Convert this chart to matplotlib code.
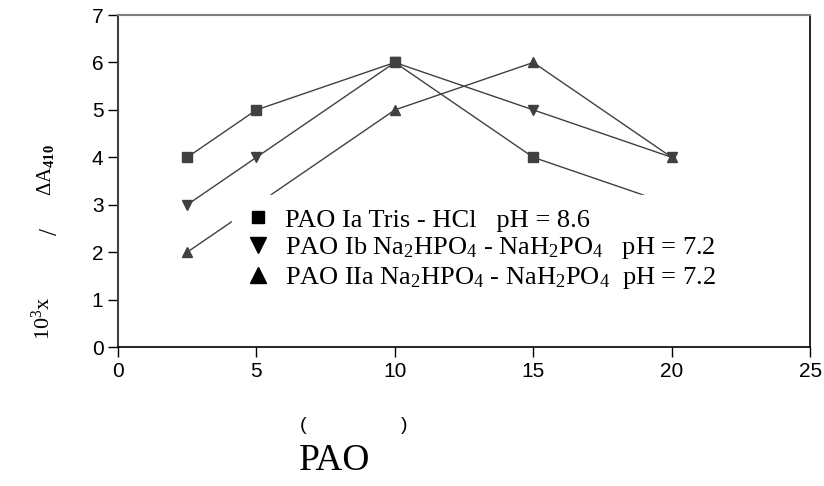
import matplotlib
matplotlib.use("Agg")
import matplotlib.pyplot as plt
from matplotlib.lines import Line2D

plt.rcParams['font.family'] = ['Liberation Sans', 'DejaVu Sans']
plt.rcParams['mathtext.fontset'] = 'custom'
plt.rcParams['mathtext.rm'] = 'Liberation Serif'
plt.rcParams['mathtext.it'] = 'Liberation Serif:italic'
plt.rcParams['mathtext.bf'] = 'Liberation Serif:bold'

# data
x_vals = [2.5, 5, 10, 15, 20]
ia_vals = [4, 5, 6, 4, 3]
ib_vals = [3, 4, 6, 5, 4]
iia_vals = [2, 3, 5, 6, 4]

labels = [
    "PAO Ia Tris - HCl   pH = 8.6",
    "PAO Ib Na$\\mathregular{_2}$HPO$\\mathregular{_4}$ - NaH$\\mathregular{_2}$PO$\\mathregular{_4}$   pH = 7.2",
    "PAO IIa Na$\\mathregular{_2}$HPO$\\mathregular{_4}$ - NaH$\\mathregular{_2}$PO$\\mathregular{_4}$  pH = 7.2",
]
markers = ['s', 'v', '^']
xticks = [0, 5, 10, 15, 20, 25]
yticks = [0, 1, 2, 3, 4, 5, 6, 7]

fig = plt.figure(figsize=(8.24, 4.86), dpi=100)
ax = fig.add_axes([0.1432, 0.286, 0.840, 0.683])

gray = '#404040'
for ys, m in zip([ia_vals, ib_vals, iia_vals], markers):
    ax.plot(x_vals, ys, color=gray, lw=1.0, marker=m, markersize=7,
            markerfacecolor=gray, markeredgecolor=gray)

ax.set_xlim(0, 25)
ax.set_ylim(0, 7)
ax.set_xticks(xticks)
ax.set_yticks(yticks)
ax.tick_params(direction='out', length=7, width=1, labelsize=15, colors='black')

ax.spines['left'].set_color(gray)
ax.spines['left'].set_linewidth(1.5)
ax.spines['top'].set_color('#808080')
ax.spines['top'].set_linewidth(1.5)
ax.spines['right'].set_color('black')
ax.spines['bottom'].set_color('black')
ax.spines['right'].set_linewidth(1.2)
ax.spines['bottom'].set_linewidth(1.2)

handles = [Line2D([], [], linestyle='none', marker=m, color='black',
                  markersize=ms) for m, ms in zip(markers, [9, 12, 12])]
leg = ax.legend(handles, labels, loc='upper left',
                bbox_to_anchor=(232 / 824, 1 - 195 / 486),
                bbox_transform=fig.transFigure,
                prop={'family': 'Liberation Serif', 'size': 19},
                frameon=True, facecolor='white', edgecolor='white',
                framealpha=1, fancybox=False, borderpad=0.5,
                borderaxespad=0, handlelength=1.0, handletextpad=0.5,
                labelspacing=0.14)

# y label pieces
fig.text(0.052, 1 - 318 / 486, "10$\\mathregular{^3}$x", rotation=90,
         ha='center', va='center', family='Liberation Serif', fontsize=16)
fig.text(0.062, 1 - 231 / 486, "/", rotation=90,
         ha='center', va='center', family='Liberation Serif', fontsize=18)
fig.text(0.055, 1 - 170 / 486, "ΔA$\\mathbf{_{410}}$", rotation=90,
         ha='center', va='center', family='Liberation Serif', fontsize=15)

# x label pieces
fig.text(303 / 824, 1 - 425 / 486, "(", ha='center', va='center', fontsize=14)
fig.text(404 / 824, 1 - 425 / 486, ")", ha='center', va='center', fontsize=14)
fig.text(335 / 824, 1 - 461 / 486, "PAO", ha='center', va='center',
         family='Liberation Serif', fontsize=27)

fig.savefig("out.png", dpi=100)
